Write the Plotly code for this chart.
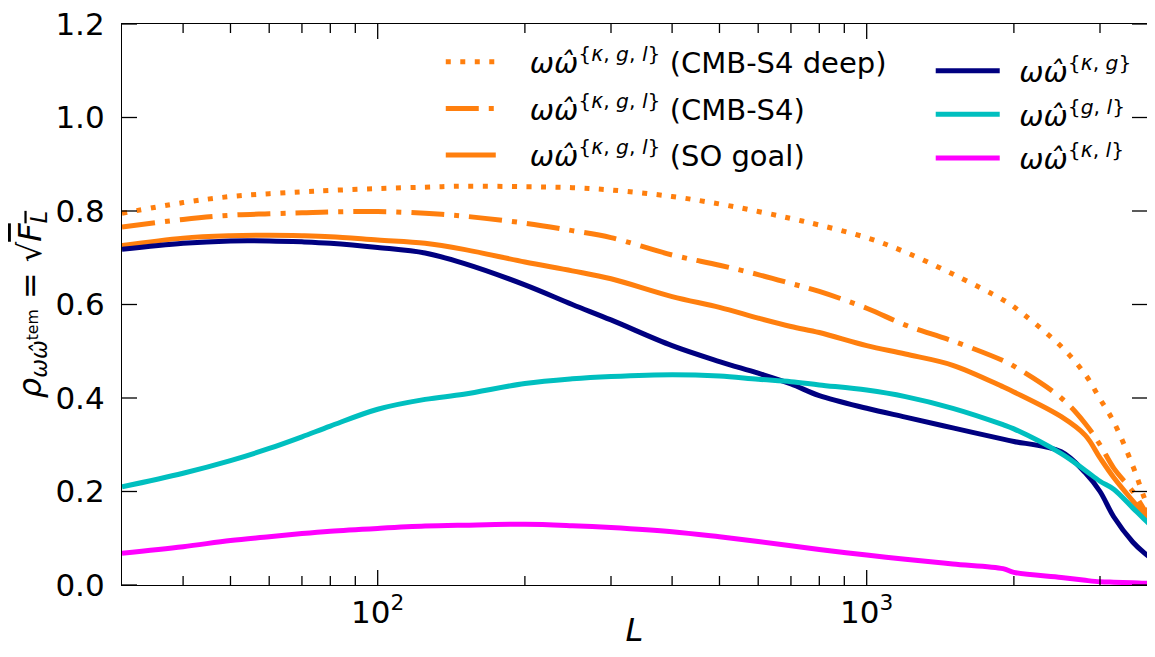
import plotly.graph_objects as go
import numpy as np

L = [30, 40, 50, 60, 70, 80, 100, 125, 150, 200, 250, 300, 400, 500, 600, 700, 800,
     1000, 1200, 1500, 1900, 2000, 2500, 2800, 3000, 3200, 3500, 3700, 3900]

kgl_s4deep = [0.795, 0.818, 0.831, 0.837, 0.841, 0.844, 0.848, 0.851, 0.853, 0.852, 0.850, 0.845,
              0.831, 0.815, 0.799, 0.784, 0.770, 0.743, 0.712, 0.665, 0.610, 0.595, 0.510, 0.450,
              0.398, 0.349, 0.255, 0.185, 0.125]
kgl_s4 = [0.766, 0.782, 0.791, 0.794, 0.796, 0.798, 0.799, 0.795, 0.789, 0.774, 0.758, 0.743,
          0.706, 0.684, 0.664, 0.645, 0.628, 0.592, 0.556, 0.522, 0.480, 0.468, 0.400, 0.345,
          0.300, 0.250, 0.200, 0.160, 0.115]
kgl_so = [0.726, 0.742, 0.747, 0.748, 0.747, 0.745, 0.738, 0.731, 0.718, 0.691, 0.672, 0.655,
          0.617, 0.594, 0.571, 0.553, 0.540, 0.512, 0.494, 0.470, 0.424, 0.413, 0.360, 0.320,
          0.272, 0.230, 0.180, 0.150, 0.115]
kg = [0.718, 0.731, 0.736, 0.736, 0.734, 0.731, 0.722, 0.710, 0.688, 0.642, 0.600, 0.567,
      0.512, 0.478, 0.453, 0.430, 0.405, 0.378, 0.359, 0.336, 0.312, 0.307, 0.285, 0.240,
      0.200, 0.146, 0.092, 0.068, 0.050]
gl = [0.210, 0.239, 0.266, 0.292, 0.317, 0.340, 0.376, 0.397, 0.408, 0.431, 0.441, 0.446,
      0.450, 0.447, 0.440, 0.435, 0.428, 0.417, 0.403, 0.378, 0.343, 0.334, 0.281, 0.245,
      0.222, 0.205, 0.165, 0.140, 0.118]
kl = [0.068, 0.082, 0.095, 0.103, 0.110, 0.115, 0.121, 0.126, 0.128, 0.130, 0.127, 0.123,
      0.114, 0.103, 0.093, 0.084, 0.076, 0.064, 0.055, 0.045, 0.035, 0.027, 0.016, 0.010,
      0.007, 0.006, 0.005, 0.004, 0.004]

major_ticks = [100, 1000]
major_text = ["10<sup>2</sup>", "10<sup>3</sup>"]
minor_ticks = [40, 50, 60, 70, 80, 90, 200, 300, 400, 500, 600, 700, 800, 900, 2000, 3000]
y_ticks = [0, 0.2, 0.4, 0.6, 0.8, 1.0, 1.2]
y_text = ["0.0", "0.2", "0.4", "0.6", "0.8", "1.0", "1.2"]

ORANGE = "#ff7f0e"
NAVY = "#000080"
CYAN = "#00bfbf"
MAGENTA = "#ff00ff"

ww = "<i>ωω̂</i>"
def sup(s):
    return "<sup>" + s + "</sup>"

G1 = "\u2003"
G2 = "\u2002"
series = [
    (kgl_s4deep, ORANGE, "5px,9.5px", G1 + ww + sup("{<i>κ</i>, <i>g</i>, <i>l</i>}") + " (CMB-S4 deep)", "legend"),
    (kgl_s4, ORANGE, "33px,10px,5px,10px", G1 + ww + sup("{<i>κ</i>, <i>g</i>, <i>l</i>}") + " (CMB-S4)", "legend"),
    (kgl_so, ORANGE, "solid", G1 + ww + sup("{<i>κ</i>, <i>g</i>, <i>l</i>}") + " (SO goal)", "legend"),
    (kg, NAVY, "solid", G2 + ww + sup("{<i>κ</i>, <i>g</i>}"), "legend2"),
    (gl, CYAN, "solid", G2 + ww + sup("{<i>g</i>, <i>l</i>}"), "legend2"),
    (kl, MAGENTA, "solid", G2 + ww + sup("{<i>κ</i>, <i>l</i>}"), "legend2"),
]

# geometry (figure is 1139x641 so the page, with its 8px body margin, is exactly 1155x657)
W, H = 1139, 641
ML, MR, MT, MB = 114, 0, 16, 64
PX_PER_DECADE = 489.0
XR = [np.log10(30), np.log10(30) + (W - ML - MR) / PX_PER_DECADE]
YR = [0, 1.2]
plot_h = H - MT - MB

fig = go.Figure()
for i, (y, col, dash, name, lg) in enumerate(series):
    fig.add_trace(go.Scatter(x=L, y=y, mode="lines", name=name, legend=lg, legendgroup="g%d" % i,
                             line=dict(color=col, width=5, dash=dash, shape="spline", smoothing=1.0)))

# inside tick marks on all four sides, expressed in the axes' own units
MAJ, MIN = 15, 9
dy_per_px = (YR[1] - YR[0]) / plot_h
fx = 10 ** (MAJ / PX_PER_DECADE)
xmin, xmax = 10 ** XR[0], 10 ** XR[1]
tx, ty = [], []
for v in major_ticks + minor_ticks:
    ln = (MAJ if v in major_ticks else MIN) * dy_per_px
    tx += [v, v, None, v, v, None]
    ty += [YR[0], YR[0] + ln, None, YR[1] - ln, YR[1], None]
for v in y_ticks:
    tx += [xmin, xmin * fx, None, xmax / fx, xmax, None]
    ty += [v, v, None, v, v, None]
fig.add_trace(go.Scatter(x=tx, y=ty, mode="lines", line=dict(color="black", width=1.3),
                         showlegend=False, hoverinfo="skip", connectgaps=False))

FONT = "DejaVu Sans"

fig.update_layout(
    xaxis=dict(type="log", range=XR, showline=True, linecolor="black", linewidth=1.2, mirror=True,
               ticks="", showgrid=False, zeroline=False, automargin=False,
               tickmode="array", tickvals=major_ticks, ticktext=major_text,
               tickfont=dict(family=FONT, size=31, color="black"),
               title=dict(text="<i>L</i>", font=dict(family=FONT, size=32, color="black"), standoff=19)),
    yaxis=dict(range=YR, showline=True, linecolor="black", linewidth=1.2, mirror=False,
               ticks="", showgrid=False, zeroline=False, automargin=False,
               tickmode="array", tickvals=y_ticks, ticktext=y_text, ticklabelstandoff=10,
               ticklabeloverflow="allow",
               tickfont=dict(family=FONT, size=31, color="black"),
               title=dict(text="<i>ρ</i><sub><i>ωω̂</i><sup>tem</sup></sub> = √<span style=\"text-decoration:overline\"><i>F</i><sub><i>L</i></sub></span>",
                          font=dict(family=FONT, size=32, color="black"), standoff=4)),
    width=W, height=H,
    margin=dict(l=ML, r=MR, t=MT, b=MB),
    paper_bgcolor="white", plot_bgcolor="white",
    font=dict(family=FONT, color="black"),
    legend=dict(x=0.311, y=0.978, xanchor="left", yanchor="top", bgcolor="rgba(0,0,0,0)",
                itemwidth=50,
                font=dict(family=FONT, size=29, color="black"), tracegroupgap=6),
    legend2=dict(x=0.789, y=0.962, xanchor="left", yanchor="top", bgcolor="rgba(0,0,0,0)",
                 itemwidth=64,
                 font=dict(family=FONT, size=29, color="black"), tracegroupgap=3),
)

fig.write_html("out.html")
